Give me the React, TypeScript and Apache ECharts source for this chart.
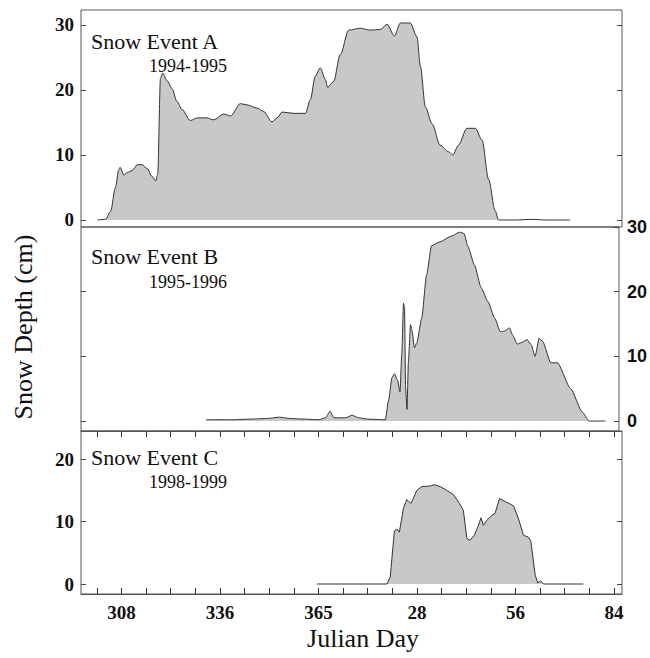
import React, { useEffect, useRef } from "react";
import * as echarts from "echarts";

// ---- Data (Julian day as a continuous count: days after 365 are day+364 so that 28 -> 392) ----
const daysA = [301.2, 303.5, 304.9, 306.3, 307.2, 307.6, 308.7, 309.6, 311, 312.5, 313.9, 315.3, 316.7, 317.7, 318.3, 319.1, 319.7, 321, 322.4, 323.8, 325.2, 327.6, 329.5, 332.3, 334.2, 337.1, 339, 341.8, 343.7, 346.6, 348.4, 350.8, 352.2, 353.7, 357, 360.3, 361.7, 363.1, 364.5, 366, 366.6, 368.3, 370.2, 372.6, 375.9, 378.7, 381.6, 383.5, 385.6, 387.3, 390.1, 392, 393, 394.4, 396.3, 398.6, 401, 402.2, 403.8, 406.2, 408.6, 410.5, 412.4, 414.2, 415.2, 420, 425, 428, 435.6];
const depthA = [0, 0.1, 1.3, 5, 7.7, 8.1, 6.9, 7.3, 7.6, 8.5, 8.5, 7.9, 6.7, 6.0, 7, 21.8, 22.6, 21.4, 20.2, 18.2, 17, 15.3, 15.7, 15.7, 15.4, 16.3, 16.0, 17.9, 17.7, 17.2, 16.7, 15.1, 15.7, 16.6, 16.4, 16.4, 18.5, 22.1, 23.4, 21.6, 20.4, 21.3, 25.4, 29.2, 29.5, 29.2, 29.3, 30.1, 28.3, 30.3, 30.3, 28.2, 23.6, 17.4, 14.8, 11.5, 10.5, 10.0, 11.5, 14.1, 14.1, 12.3, 6.2, 1.5, 0, 0, 0.1, 0, 0];

const daysB = [332.3, 340, 345, 350, 353.2, 356, 360, 364.5, 366.4, 367.7, 368.8, 372.1, 374, 375.9, 378.3, 383.5, 384.4, 385.4, 386.1, 387, 387.7, 388.2, 388.7, 389, 389.3, 389.7, 390.1, 390.7, 391.2, 391.8, 392.5, 393.9, 395.3, 396.7, 399.1, 402.4, 404.8, 406, 407.1, 409, 410.9, 412.8, 414.7, 416.4, 417.6, 419, 419.9, 421.2, 422.8, 424, 425.2, 426.3, 427.5, 428.5, 430.8, 432.7, 436.5, 439.8, 441.7, 446.4];
const depthB = [0.2, 0.2, 0.3, 0.4, 0.6, 0.4, 0.3, 0.2, 0.5, 1.5, 0.5, 0.5, 0.9, 0.5, 0.3, 0.2, 3.1, 6.7, 7.3, 6.3, 4.5, 10.3, 18.2, 17.4, 5.1, 1.8, 9.2, 14.9, 13.8, 11.3, 12.1, 15.9, 22.6, 27.1, 27.7, 28.6, 29.2, 29, 27, 24.1, 20.6, 18.5, 16, 13.8, 13.9, 14.4, 13.3, 11.9, 12.2, 12.6, 11.8, 10.0, 12.8, 12.3, 9, 9, 5, 1.4, 0, 0];

const daysC = [363.6, 383.5, 384.4, 385.6, 386.3, 387, 388.2, 389.1, 390.3, 392, 393.4, 395.8, 396.9, 398.6, 400.5, 402.4, 404.1, 405.2, 406.2, 407.1, 408.3, 409.3, 410.2, 410.9, 411.9, 413.3, 414.2, 415.5, 417.1, 418.5, 419.5, 420.9, 422.3, 423.7, 424.4, 425.6, 426.3, 427.2, 428, 439.3];
const depthC = [0, 0, 1.1, 8.5, 8.8, 8.3, 12.2, 13.5, 12.9, 15, 15.6, 15.7, 15.9, 15.6, 15, 14.3, 12.9, 11.8, 7.3, 7.0, 7.8, 9.1, 10.6, 9.4, 10.2, 11.0, 11.3, 13.7, 13.2, 12.8, 12.5, 10.4, 7.8, 7.5, 6.8, 1.5, 0.2, 0.5, 0, 0];

const xTickValues = [308, 336, 364, 392, 420, 448];
const xTickLabels = ["308", "336", "365", "28", "56", "84"];
const xMinorTicks = [301, 308, 315, 322, 329, 336, 343, 350, 357, 364, 371, 378, 385, 392, 399, 406, 413, 420, 427, 434, 441, 448];
const yTicksA = [0, 10, 20, 30];
const yTicksB = [0, 10, 20, 30];
const yTicksC = [0, 10, 20];

const titles = [
  { name: "Snow Event A", years: "1994-1995" },
  { name: "Snow Event B", years: "1995-1996" },
  { name: "Snow Event C", years: "1998-1999" },
];

const SERIF = "'Liberation Serif', 'DejaVu Serif', serif";
const SANS = "'Liberation Sans', 'DejaVu Sans', sans-serif";
const FRAME = "#555";

export default function App() {
  const ref = useRef<HTMLDivElement>(null);

  useEffect(() => {
    if (!ref.current) return;
    const chart = echarts.init(ref.current, undefined, { renderer: "svg" });

    const grids = [
      { left: 81, right: 28, top: 10, height: 217 },
      { left: 81, right: 28, top: 227, height: 204 },
      { left: 81, right: 28, top: 431, height: 163 },
    ].map((g) => ({ ...g, show: true, borderColor: FRAME, borderWidth: 1, backgroundColor: "transparent" }));

    const yRanges = [
      { min: -1.08, max: 32.3 },
      { min: -1.54, max: 30 },
      { min: -1.6, max: 24.5 },
    ];
    const yTicks = [yTicksA, yTicksB, yTicksC];

    const xAxes: any[] = [0, 1, 2].map((i) => ({
      type: "value",
      gridIndex: i,
      min: 296.5,
      max: 450.3,
      show: i === 2,
      splitLine: { show: false },
      axisLine: { show: true, onZero: false, lineStyle: { color: FRAME, width: 1 } },
      axisTick: {
        show: true,
        inside: true,
        length: 6,
        customValues: xMinorTicks,
        lineStyle: { color: "#333" },
      },
      axisLabel: {
        customValues: xTickValues,
        formatter: (v: number) => {
          const k = xTickValues.indexOf(v);
          return k >= 0 ? xTickLabels[k] : "";
        },
        fontFamily: SERIF,
        fontWeight: "bold",
        fontSize: 19,
        color: "#111",
        margin: 9,
      },
    }));
    // tick-only companion axis on the bottom panel (weekly ticks)
    xAxes.push({
      type: "value",
      gridIndex: 2,
      min: 296.5,
      max: 450.3,
      splitLine: { show: false },
      axisLine: { show: true, onZero: false, lineStyle: { color: FRAME } },
      axisTick: { show: true, inside: true, length: 6, customValues: xMinorTicks, lineStyle: { color: "#333" } },
      axisLabel: { show: false, customValues: xTickValues },
    });

    const yAxes: any[] = [];
    [0, 1, 2].forEach((i) => {
      const leftLabels = i !== 1;
      yAxes.push({
        type: "value",
        gridIndex: i,
        position: "left",
        min: yRanges[i].min,
        max: yRanges[i].max,
        axisLine: { show: false, onZero: false },
        splitLine: { show: false },
        axisTick: { show: true, inside: true, length: 5, customValues: i === 1 ? [0, 10, 20] : yTicks[i], lineStyle: { color: "#444" } },
        axisLabel: {
          show: leftLabels,
          customValues: yTicks[i],
          fontFamily: SERIF,
          fontWeight: "bold",
          fontSize: 19,
          color: "#111",
          margin: 7,
        },
      });
      yAxes.push({
        type: "value",
        gridIndex: i,
        position: "right",
        min: yRanges[i].min,
        max: yRanges[i].max,
        axisLine: { show: false, onZero: false },
        splitLine: { show: false },
        axisTick: { show: true, inside: true, length: 5, customValues: yTicks[i], lineStyle: { color: "#444" } },
        axisLabel: {
          show: i === 1,
          customValues: yTicks[i],
          fontFamily: SANS,
          fontWeight: "bold",
          fontSize: 18,
          color: "#111",
          align: "left",
          margin: 8,
        },
      });
    });

    const mk = (days: number[], vals: number[], i: number, smooth: number | boolean) => ({
      type: "line",
      xAxisIndex: i,
      yAxisIndex: i * 2,
      data: days.map((d, k) => [d, vals[k]]),
      showSymbol: false,
      smooth,
      smoothMonotone: "x",
      lineStyle: { color: "#333", width: 1 },
      areaStyle: { color: "#c8c8c8", opacity: 1, origin: "auto" },
      z: 2,
    });

    const titleY = [
      [41, 66],
      [256.5, 282],
      [457, 481.5],
    ];
    const graphics: any[] = [];
    titles.forEach((t, i) => {
      graphics.push({
        type: "text",
        x: 91,
        y: titleY[i][0],
        style: { text: t.name, font: `22px ${SERIF}`, fill: "#111", align: "left", verticalAlign: "middle" },
      });
      graphics.push({
        type: "text",
        x: 149,
        y: titleY[i][1],
        style: { text: t.years, font: `18px ${SERIF}`, fill: "#111", align: "left", verticalAlign: "middle" },
      });
    });
    graphics.push({
      type: "text",
      x: 363,
      y: 638,
      style: { text: "Julian Day", font: `26px ${SERIF}`, fill: "#111", align: "center", verticalAlign: "middle" },
    });
    graphics.push({
      type: "text",
      x: 23,
      y: 327,
      rotation: Math.PI / 2,
      style: { text: "Snow Depth (cm)", font: `26px ${SERIF}`, fill: "#111", align: "center", verticalAlign: "middle" },
    });

    chart.setOption({
      animation: false,
      grid: grids,
      xAxis: xAxes,
      yAxis: yAxes,
      series: [mk(daysA, depthA, 0, 0.3), mk(daysB, depthB, 1, 0.2), mk(daysC, depthC, 2, false)],
      graphic: graphics,
    });

    return () => chart.dispose();
  }, []);

  return (
    <div
      ref={ref}
      style={{ position: "fixed", left: 0, top: 0, width: 650, height: 658, background: "#fff" }}
    />
  );
}
